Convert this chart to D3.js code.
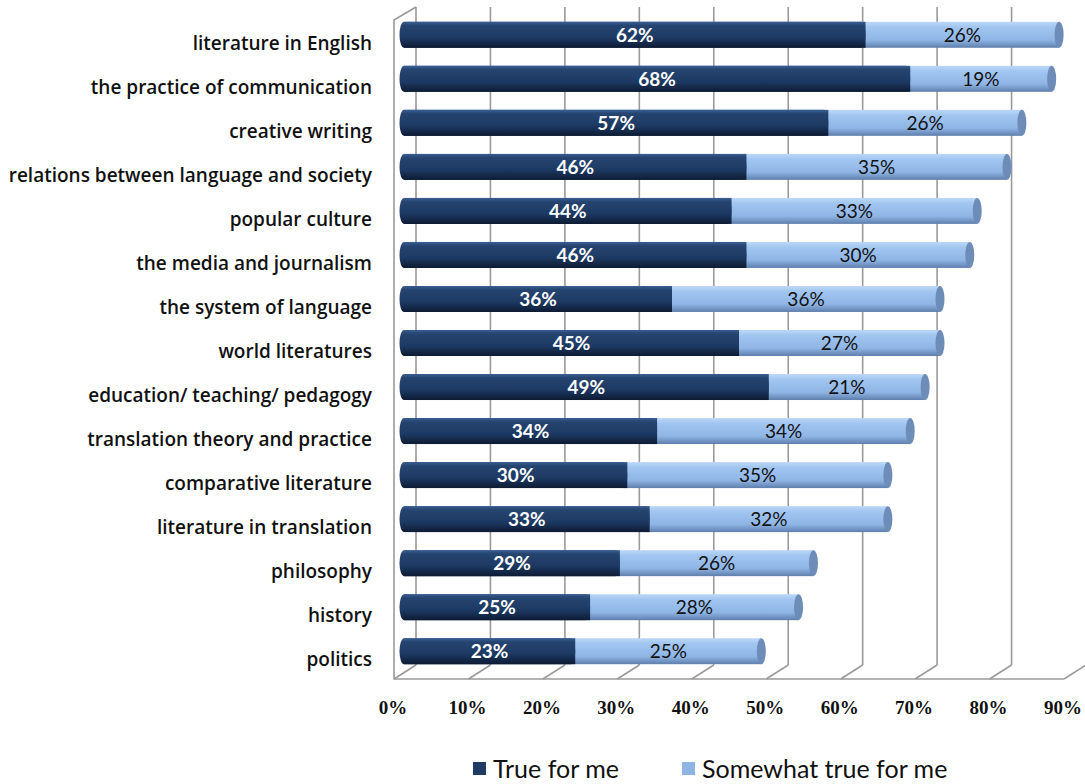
<!DOCTYPE html>
<html lang="en">
<head>
  <meta charset="utf-8">
  <title>Stacked 3D bars</title>
  <script src="https://d3js.org/d3.v7.min.js"></script>
  <style>
    body { margin: 0; background: #fff; }
    .cat { font: 600 19px "Open Sans", sans-serif; fill: #111; }
    .tick { font: bold 19px "Liberation Serif", serif; fill: #111; }
    .lbl-dark { font: bold 19px Lato, sans-serif; fill: #fff; }
    .lbl-light { font: 19px Lato, sans-serif; fill: #111; }
    .legend { font: 25px Lato, sans-serif; fill: #111; }
  </style>
</head>
<body>
<svg width="1085" height="784"></svg>
<script>
  // data
  var categories = ["literature in English", "the practice of communication", "creative writing",
    "relations between language and society", "popular culture", "the media and journalism",
    "the system of language", "world literatures", "education/ teaching/ pedagogy",
    "translation theory and practice", "comparative literature", "literature in translation",
    "philosophy", "history", "politics"];
  var trueForMe = [62, 68, 57, 46, 44, 46, 36, 45, 49, 34, 30, 33, 29, 25, 23];
  var somewhatTrue = [26, 19, 26, 35, 33, 30, 36, 27, 21, 34, 35, 32, 26, 28, 25];
  var tickValues = [0, 10, 20, 30, 40, 50, 60, 70, 80, 90];
  var seriesNames = ["True for me", "Somewhat true for me"];

  var svg = d3.select("svg");

  // depth of the 3d box
  var depthY = 14;
  var xBar = d3.scaleLinear().domain([0, 90]).range([404, 1074]);
  var xFront = v => xBar(v) - 10;
  var xBack = v => xBar(v) + 12;
  var y = d3.scaleBand().domain(categories).range([13, 673]).paddingInner(0.41).paddingOuter(0.2);
  var floorBack = 665, floorFront = 679, wallTop = 7;

  var defs = svg.append("defs");
  function grad(id, stops) {
    var g = defs.append("linearGradient").attr("id", id)
      .attr("x1", 0).attr("y1", 0).attr("x2", 0).attr("y2", 1);
    stops.forEach(s => g.append("stop").attr("offset", s[0]).attr("stop-color", s[1]));
  }
  grad("gDark", [[0, "#3a5f93"], [0.15, "#25446f"], [0.6, "#1d3a64"], [1, "#0d1b33"]]);
  grad("gLight", [[0, "#bcd8f8"], [0.2, "#a2c6f1"], [0.7, "#8fb5e5"], [1, "#5f7fac"]]);

  // walls and grid
  var grid = svg.append("g").attr("stroke", "#9a9a9a").attr("stroke-width", 1.6).attr("fill", "none");
  grid.selectAll("line.back").data(tickValues).join("line")
    .attr("x1", d => xBack(d)).attr("x2", d => xBack(d))
    .attr("y1", wallTop).attr("y2", floorBack);
  grid.selectAll("line.floor").data(tickValues).join("line")
    .attr("x1", d => xBack(d)).attr("y1", floorBack)
    .attr("x2", d => xFront(d)).attr("y2", floorFront);
  grid.append("path")
    .attr("d", `M${xBack(0)},${wallTop}L${xFront(0)},${wallTop + depthY - 1}L${xFront(0)},${floorFront}L${xFront(90)},${floorFront}`);

  // bars
  var rows = categories.map((c, i) => ({ cat: c, a: trueForMe[i], b: somewhatTrue[i] }));
  var bh = y.bandwidth(), rx = 4.5;
  var bars = svg.append("g").selectAll("g").data(rows).join("g")
    .attr("transform", d => `translate(0,${y(d.cat)})`);

  // light segment with end cap
  bars.append("rect")
    .attr("x", d => xBar(d.a) - rx).attr("y", 0)
    .attr("width", d => xBar(d.a + d.b) - xBar(d.a) + rx).attr("height", bh)
    .attr("fill", "url(#gLight)");
  bars.append("ellipse")
    .attr("cx", d => xBar(d.a + d.b)).attr("cy", bh / 2)
    .attr("rx", rx).attr("ry", bh / 2)
    .attr("fill", "#6d8cb7");
  // dark segment, rounded on the left end
  bars.append("rect")
    .attr("x", xBar(0) - rx).attr("y", 0)
    .attr("width", d => xBar(d.a) - xBar(0) + rx).attr("height", bh)
    .attr("rx", rx).attr("ry", bh / 2)
    .attr("fill", "url(#gDark)");
  bars.append("rect")
    .attr("x", xBar(0)).attr("y", 0)
    .attr("width", d => xBar(d.a) - xBar(0)).attr("height", bh)
    .attr("fill", "url(#gDark)");

  bars.append("text").attr("class", "lbl-dark")
    .attr("x", d => xBar(d.a / 2)).attr("y", bh / 2).attr("dy", "0.36em")
    .attr("text-anchor", "middle").text(d => d.a + "%");
  bars.append("text").attr("class", "lbl-light")
    .attr("x", d => xBar(d.a + d.b / 2)).attr("y", bh / 2).attr("dy", "0.36em")
    .attr("text-anchor", "middle").text(d => d.b + "%");

  // category labels (sit at the front of the box, a bit below the bar centre)
  svg.append("g").selectAll("text").data(categories).join("text")
    .attr("class", "cat")
    .attr("x", 372).attr("y", d => y(d) + bh / 2 + 8).attr("dy", "0.36em")
    .attr("text-anchor", "end").text(d => d);

  // x tick labels
  svg.append("g").selectAll("text").data(tickValues).join("text")
    .attr("class", "tick")
    .attr("x", d => xFront(d) - 1).attr("y", 714)
    .attr("text-anchor", "middle").text(d => d + "%");

  // legend
  var legend = svg.append("g");
  var legX = [473, 682], legColors = ["#1f3b63", "#8db4e2"];
  seriesNames.forEach((s, i) => {
    legend.append("rect").attr("x", legX[i]).attr("y", 762).attr("width", 13).attr("height", 13)
      .attr("fill", legColors[i]);
    legend.append("text").attr("class", "legend")
      .attr("x", legX[i] + 20).attr("y", 778).text(s);
  });
</script>
</body>
</html>
